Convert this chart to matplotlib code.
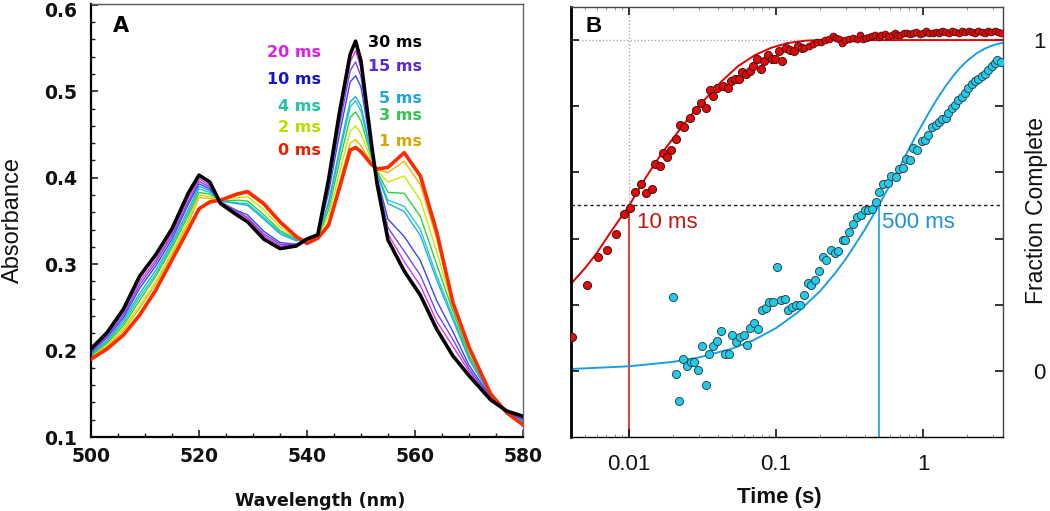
import numpy as np
import matplotlib
matplotlib.use("Agg")
import matplotlib.pyplot as plt
import matplotlib.transforms as mtransforms
from matplotlib.ticker import FixedLocator, MultipleLocator, NullFormatter, LogLocator

# ---------------- Panel A data ----------------
wavelength = [500, 503, 506, 509, 512, 515, 518, 520, 522, 524, 527, 529, 532, 535, 538, 540,
              542, 544, 546, 548, 549, 550, 552, 553, 555, 558, 561, 564, 567, 570, 574, 577, 580]

abs_0ms = [.190, .202, .218, .241, .270, .305, .340, .364, .372, .374, .381, .384, .370, .349, .332, .324,
           .330, .345, .388, .432, .435, .430, .415, .410, .412, .429, .402, .338, .256, .204, .150, .128, .114]
abs_1ms = [.192, .205, .223, .249, .277, .311, .347, .377, .376, .374, .380, .382, .368, .347, .331, .328,
           .330, .349, .394, .440, .444, .437, .416, .409, .406, .419, .392, .330, .254, .202, .150, .128, .115]
abs_2ms = [.193, .207, .226, .252, .280, .314, .351, .380, .378, .374, .377, .378, .363, .343, .330, .329,
           .331, .356, .405, .454, .460, .451, .419, .408, .395, .402, .374, .315, .250, .199, .149, .128, .116]
abs_3ms = [.194, .209, .229, .258, .286, .319, .356, .383, .381, .373, .374, .373, .357, .339, .329, .329,
           .331, .363, .418, .470, .476, .466, .422, .407, .383, .382, .355, .300, .246, .195, .148, .129, .117]
abs_4ms = [.195, .211, .232, .262, .289, .322, .359, .387, .383, .373, .371, .370, .354, .337, .328, .329,
           .332, .369, .427, .482, .489, .477, .424, .405, .374, .367, .340, .287, .240, .192, .148, .129, .118]
abs_5ms = [.196, .212, .235, .266, .293, .325, .363, .390, .385, .373, .370, .368, .352, .335, .327, .329,
           .332, .372, .432, .488, .494, .483, .426, .404, .370, .361, .333, .282, .236, .190, .147, .129, .119]
abs_10ms = [.198, .215, .238, .272, .298, .329, .369, .393, .387, .372, .362, .357, .338, .325, .323, .329,
            .333, .383, .450, .511, .518, .505, .430, .400, .352, .332, .304, .258, .222, .183, .146, .129, .120]
abs_15ms = [.199, .217, .241, .276, .302, .333, .372, .396, .389, .372, .361, .354, .335, .323, .323, .329,
            .333, .389, .460, .524, .534, .517, .432, .398, .342, .315, .287, .244, .213, .179, .145, .130, .121]
abs_20ms = [.200, .218, .244, .280, .305, .336, .376, .399, .391, .371, .359, .353, .333, .321, .322, .329,
            .334, .394, .468, .534, .547, .527, .434, .396, .335, .303, .275, .234, .205, .176, .144, .130, .122]
abs_30ms = [.202, .221, .248, .286, .311, .341, .382, .403, .395, .370, .357, .349, .329, .318, .321, .329,
            .334, .398, .475, .543, .558, .535, .436, .392, .328, .292, .264, .225, .194, .171, .143, .130, .124]

time_labels = ["0 ms", "1 ms", "2 ms", "3 ms", "4 ms", "5 ms", "10 ms", "15 ms", "20 ms", "30 ms"]

# ---------------- Panel B data ----------------
red_t = [0.0041, 0.00514, 0.0061, 0.0071, 0.00812, 0.0092, 0.0101, 0.0110, 0.0121, 0.0130, 0.0142,
         0.0149, 0.0162, 0.0170, 0.0182, 0.0192, 0.0207, 0.0221, 0.0236, 0.0258, 0.0287, 0.0310,
         0.0335, 0.0353, 0.0372, 0.0398, 0.0435, 0.047, 0.0495, 0.0527, 0.0556, 0.0585, 0.0627,
         0.066, 0.0695, 0.074, 0.0784, 0.0826, 0.0879, 0.0935, 0.0985, 0.104, 0.110, 0.117, 0.124,
         0.133, 0.14, 0.15]
red_f = [0.103, 0.26, 0.345, 0.366, 0.414, 0.474, 0.491, 0.541, 0.566, 0.539, 0.551,
         0.625, 0.620, 0.659, 0.648, 0.669, 0.702, 0.742, 0.736, 0.765, 0.788, 0.810,
         0.795, 0.848, 0.832, 0.856, 0.861, 0.854, 0.876, 0.883, 0.883, 0.903, 0.896,
         0.906, 0.923, 0.942, 0.913, 0.936, 0.954, 0.942, 0.942, 0.967, 0.938, 0.977, 0.970,
         0.967, 0.982, 0.975]
red_late_t = [0.155, 0.167, 0.178, 0.189, 0.202, 0.216, 0.230, 0.244, 0.256, 0.270, 0.280, 0.295,
              0.315, 0.335, 0.353, 0.371, 0.391, 0.410, 0.430, 0.45, 0.47, 0.50, 0.52, 0.55, 0.58,
              0.61, 0.64, 0.67, 0.70, 0.74, 0.78, 0.82, 0.86, 0.90, 0.95, 1.00, 1.05, 1.10, 1.16,
              1.22, 1.28, 1.35, 1.42, 1.50, 1.58, 1.66, 1.75, 1.84, 1.94, 2.04, 2.15, 2.26, 2.38,
              2.50, 2.63, 2.77, 2.92, 3.07, 3.23, 3.40]
red_late_f = [0.977, 0.982, 0.987, 0.994, 0.994, 1.000, 1.002, 1.012, 1.007, 1.004, 0.990, 1.000,
              1.004, 1.007, 1.004, 1.014, 1.002, 1.007, 1.010, 1.012, 1.016, 1.010, 1.014, 1.018, 1.012,
              1.016, 1.020, 1.016, 1.014, 1.020, 1.022, 1.018, 1.020, 1.024, 1.018, 1.022, 1.026, 1.020, 1.022,
              1.024, 1.020, 1.026, 1.024, 1.022, 1.028, 1.024, 1.022, 1.026, 1.024, 1.028, 1.024, 1.022, 1.026,
              1.024, 1.022, 1.026, 1.024, 1.026, 1.024, 1.020]

blue_t = [0.0199, 0.0207, 0.0219, 0.0233, 0.0248, 0.0262, 0.0276, 0.0292, 0.0313, 0.0332, 0.0351,
          0.0372, 0.0396, 0.0422, 0.0449, 0.0475, 0.0503, 0.0535, 0.0564, 0.0600, 0.0635, 0.0668,
          0.0710, 0.0752, 0.0800, 0.0851, 0.0900, 0.0958, 0.1013, 0.108, 0.115, 0.121, 0.128, 0.136,
          0.146, 0.155, 0.164, 0.174, 0.184, 0.196, 0.207, 0.220, 0.236, 0.251, 0.264, 0.284, 0.296,
          0.315, 0.336, 0.353, 0.378, 0.404, 0.420, 0.449, 0.478, 0.504, 0.538, 0.573, 0.604, 0.653,
          0.688, 0.733, 0.764, 0.813, 0.861, 0.916, 0.981, 1.028, 1.088, 1.158, 1.222, 1.285, 1.355,
          1.429, 1.486, 1.567, 1.651, 1.738, 1.834, 1.931, 2.033, 2.143, 2.258, 2.377, 2.507, 2.640,
          2.780, 2.931, 3.085, 3.198, 3.375]
blue_f = [0.222, -0.010, -0.091, 0.035, 0.014, 0.027, 0.027, 0.002, 0.076, -0.043, 0.051,
          0.075, 0.090, 0.119, 0.050, 0.050, 0.108, 0.088, 0.101, 0.108, 0.079, 0.131,
          0.145, 0.128, 0.184, 0.191, 0.207, 0.207, 0.313, 0.214, 0.216, 0.184, 0.194, 0.199,
          0.199, 0.229, 0.265, 0.260, 0.275, 0.302, 0.344, 0.334, 0.364, 0.357, 0.361, 0.396, 0.396,
          0.421, 0.445, 0.465, 0.472, 0.487, 0.487, 0.489, 0.509, 0.540, 0.564, 0.568, 0.588, 0.586,
          0.610, 0.613, 0.641, 0.636, 0.674, 0.669, 0.694, 0.697, 0.714, 0.738, 0.742, 0.752, 0.762,
          0.765, 0.780, 0.795, 0.805, 0.820, 0.828, 0.841, 0.856, 0.866, 0.876, 0.881, 0.891, 0.896,
          0.911, 0.921, 0.931, 0.939, 0.933]

# fit curves
red_fit_t = [0.004, 0.005, 0.006, 0.0075, 0.01, 0.013, 0.0165, 0.0204, 0.026, 0.0327, 0.042,
             0.055, 0.072, 0.093, 0.12, 0.156, 0.2, 3.5]
red_fit_f = [0.262, 0.31, 0.355, 0.42, 0.50, 0.585, 0.655, 0.709, 0.77, 0.82, 0.873,
             0.921, 0.955, 0.977, 0.991, 0.998, 1.0, 1.0]
blue_fit_t = [0.004, 0.01, 0.02, 0.03, 0.05, 0.07, 0.1, 0.14, 0.2, 0.25, 0.3, 0.4, 0.5, 0.6,
              0.75, 0.9, 1.1, 1.25, 1.4, 1.6, 1.8, 2.0, 2.3, 2.6, 2.9, 3.2, 3.5]
blue_fit_f = [0.0055, 0.0138, 0.0273, 0.0407, 0.067, 0.0924, 0.1294, 0.1764, 0.242, 0.293, 0.340,
              0.426, 0.5, 0.565, 0.646, 0.713, 0.782, 0.823, 0.856, 0.891, 0.918, 0.9375, 0.959,
              0.973, 0.982, 0.988, 0.992]

# half-times (annotated in the chart)
half_time_red = 0.010
half_time_blue = 0.500

# ---------------- Figure ----------------
W, H = 1050, 511
fig = plt.figure(figsize=(W / 100, H / 100), dpi=100)


def fx(px):
    return px / W


def fy(py):
    return 1 - py / H


axA = fig.add_axes([fx(91), fy(437), (523 - 91) / W, (437 - 4) / H])
axB = fig.add_axes([fx(571), fy(437), (1003 - 571) / W, (437 - 7) / H])

# ---- Panel A ----
series = [abs_0ms, abs_1ms, abs_2ms, abs_3ms, abs_4ms, abs_5ms, abs_10ms, abs_15ms, abs_20ms, abs_30ms]
line_colors = ["#FF2A00", "#F2B400", "#CDE600", "#2CD040", "#22D0B0", "#22A8F0",
               "#3A46F0", "#7446EA", "#E832E8", "#000000"]
line_widths = [2.6, 1.0, 1.0, 1.0, 1.0, 1.0, 1.0, 1.0, 1.0, 2.6]
order = [1, 2, 3, 4, 5, 6, 7, 8, 0, 9]
for i in order:
    axA.plot(wavelength, series[i], color=line_colors[i], lw=line_widths[i],
             solid_joinstyle="round", zorder=3 if i in (0, 9) else 2)

axA.set_xlim(500, 580)
axA.set_ylim(0.1, 0.601)
axA.xaxis.set_major_locator(FixedLocator([500, 520, 540, 560, 580]))
axA.xaxis.set_minor_locator(MultipleLocator(5))
axA.yaxis.set_major_locator(FixedLocator([0.1, 0.2, 0.3, 0.4, 0.5, 0.6]))
axA.yaxis.set_minor_locator(MultipleLocator(0.02))
axA.tick_params(which="both", direction="in", top=False, right=False, colors="#222222")
axA.tick_params(which="major", length=5, width=1.2)
axA.tick_params(which="minor", length=3, width=1.0)
axA.tick_params(axis="y", which="major", pad=10)
axA.tick_params(axis="x", which="major", pad=7)
axA.set_xticklabels(["500", "520", "540", "560", "580"])
axA.set_yticklabels(["0.1", "0.2", "0.3", "0.4", "0.5", "0.6"])
for lab in axA.get_xticklabels() + axA.get_yticklabels():
    lab.set_fontfamily("DejaVu Sans")
    lab.set_fontweight("bold")
    lab.set_fontsize(13.5)
    lab.set_color("#111111")
# nudge the top label down slightly so it stays inside the figure
top_lab = axA.get_yticklabels()[-1]
top_lab.set_transform(top_lab.get_transform() +
                      mtransforms.ScaledTranslation(0, -5 / 100, fig.dpi_scale_trans))
axA.spines["left"].set_linewidth(1.6)
axA.spines["bottom"].set_linewidth(1.6)
axA.spines["top"].set_linewidth(1.0)
axA.spines["right"].set_linewidth(1.0)
axA.spines["top"].set_color("#555555")
axA.spines["right"].set_color("#666666")

# curve labels
lab_colors = {"20 ms": "#E020E0", "10 ms": "#1414C8", "4 ms": "#22C4A0", "2 ms": "#B4E000",
              "0 ms": "#E42200", "30 ms": "#000000", "15 ms": "#5A28D8", "5 ms": "#20A4E6",
              "3 ms": "#34C454", "1 ms": "#D4A800"}
left_col = [("20 ms", 0.5451), ("10 ms", 0.5139), ("4 ms", 0.4826), ("2 ms", 0.4583), ("0 ms", 0.4316)]
right_col = [("30 ms", 0.5567), ("15 ms", 0.5289), ("5 ms", 0.4919), ("3 ms", 0.4722), ("1 ms", 0.4420)]
for txt, yv in left_col:
    axA.text(542.6, yv, txt, color=lab_colors[txt], ha="right", va="center",
             fontsize=11.5, fontweight="bold", family="DejaVu Sans")
for txt, yv in right_col:
    axA.text(561.3, yv, txt, color=lab_colors[txt], ha="right", va="center",
             fontsize=11.5, fontweight="bold", family="DejaVu Sans")

fig.text(fx(121), fy(26), "A", ha="center", va="center", fontsize=15, fontweight="bold",
         family="DejaVu Sans")
fig.text(fx(320), fy(501), "Wavelength (nm)", ha="center", va="center", fontsize=12.6,
         fontweight="bold", family="DejaVu Sans", color="#111111")
fig.text(fx(13), fy(220), "Absorbance", ha="center", va="center", rotation=90, fontsize=17,
         family="Liberation Sans", color="#111111")

# ---- Panel B ----
axB.set_xscale("log")
axB.set_xlim(0.00402, 3.5)
axB.set_ylim(-0.2, 1.1)

axB.axhline(1.0, color="#AAAAAA", lw=1.0, ls=(0, (1, 1.5)), zorder=1)
axB.axhline(0.5, color="#222222", lw=1.0, ls=(0, (2.5, 2)), zorder=1)
axB.plot([half_time_red, half_time_red], [0.5, 1.1], color="#AAAAAA", lw=1.0, ls=(0, (1, 1.5)), zorder=1)
axB.plot([half_time_red, half_time_red], [-0.2, 0.5], color="#E01818", lw=1.2, zorder=1)
axB.plot([half_time_blue, half_time_blue], [-0.2, 0.5], color="#1AA0E0", lw=1.2, zorder=1)

axB.plot(red_fit_t, red_fit_f, color="#E00000", lw=1.4, zorder=2, solid_joinstyle="round")
axB.plot(blue_fit_t, blue_fit_f, color="#1AA0E0", lw=1.4, zorder=2, solid_joinstyle="round")

axB.scatter(red_t, red_f, s=34, color="#E00A0A", edgecolor="#4A1010", linewidth=0.7, zorder=4)
axB.scatter(red_late_t, red_late_f, s=24, color="#E00A0A", edgecolor="#4A1010", linewidth=0.6, zorder=4)
axB.scatter(blue_t, blue_f, s=34, color="#22CCE8", edgecolor="#2A4A55", linewidth=0.7, zorder=4)

axB.text(0.0113, 0.45, "10 ms", color="#C41414", fontsize=16, family="Liberation Sans",
         ha="left", va="center")
axB.text(0.527, 0.45, "500 ms", color="#2090D0", fontsize=16, family="Liberation Sans",
         ha="left", va="center")

axB.xaxis.set_major_locator(FixedLocator([0.01, 0.1, 1]))
axB.xaxis.set_minor_locator(LogLocator(base=10, subs=np.arange(2, 10) * 1.0, numticks=20))
axB.xaxis.set_minor_formatter(NullFormatter())
axB.set_xticklabels(["0.01", "0.1", "1"])
axB.yaxis.set_major_locator(FixedLocator([0, 0.2, 0.4, 0.6, 0.8, 1.0]))
axB.tick_params(which="both", direction="in", top=True, right=True, left=True, bottom=True)
axB.tick_params(which="major", length=6, width=1.2, colors="#111111")
axB.tick_params(which="minor", length=2, width=0.6, colors="#888888")
axB.tick_params(axis="x", which="major", pad=12, labelsize=16)
axB.tick_params(axis="y", which="major", labelleft=False, labelright=True, pad=22, labelsize=16)
axB.set_yticklabels(["0", "", "", "", "", "1"])
for lab in axB.get_xticklabels() + axB.get_yticklabels():
    lab.set_fontfamily("Liberation Sans")
axB.spines["left"].set_linewidth(2.0)
axB.spines["bottom"].set_linewidth(1.0)
axB.spines["top"].set_linewidth(1.0)
axB.spines["right"].set_linewidth(1.0)
axB.spines["top"].set_color("#444444")
axB.spines["right"].set_color("#444444")

fig.text(fx(594), fy(26), "B", ha="center", va="center", fontsize=16, fontweight="bold",
         family="Liberation Sans")
fig.text(fx(779), fy(497), "Time (s)", ha="center", va="center", fontsize=16, fontweight="bold",
         family="Liberation Sans", color="#111111")
fig.text(fx(1036), fy(210), "Fraction Complete", ha="center", va="center", rotation=90,
         fontsize=16.5, family="Liberation Sans", color="#111111")

fig.savefig("out.png", dpi=100)
